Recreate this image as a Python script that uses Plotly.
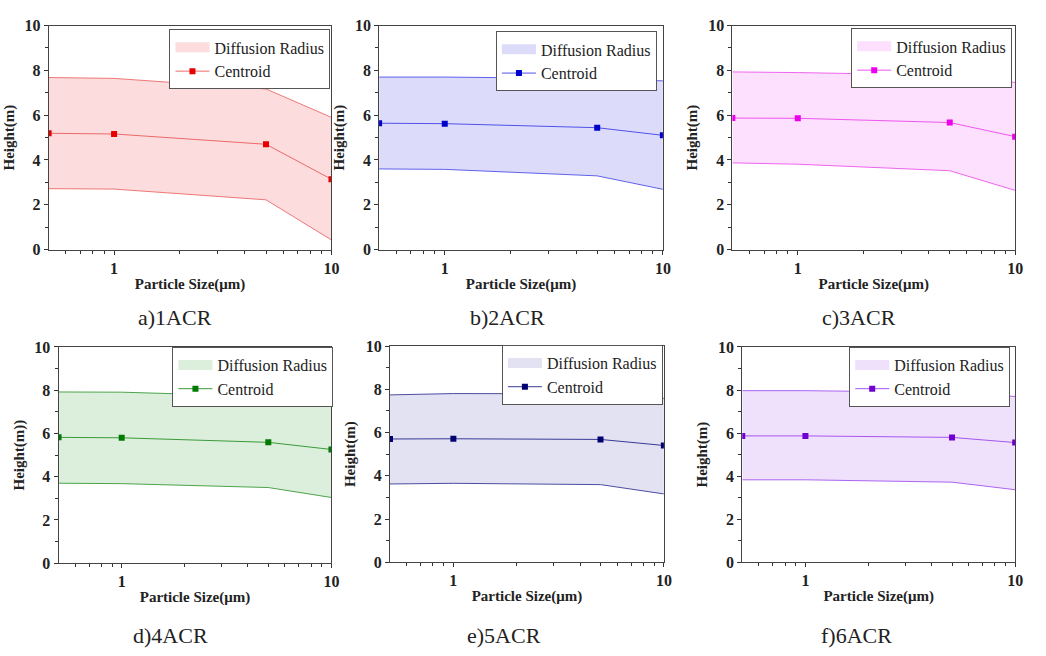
import plotly.graph_objects as go
import math

# ---------------- data ----------------
particle_sizes = [0.5, 1, 5, 10]
panel_labels = ["a)1ACR", "b)2ACR", "c)3ACR", "d)4ACR", "e)5ACR", "f)6ACR"]
y_titles = ["Height(m)", "Height(m)", "Height(m)", "Height(m))", "Height(m)", "Height(m)"]

centroid_1 = [5.19, 5.16, 4.70, 3.14]
upper_1 = [7.68, 7.64, 7.17, 5.90]
lower_1 = [2.72, 2.70, 2.22, 0.43]

centroid_2 = [5.64, 5.62, 5.44, 5.10]
upper_2 = [7.70, 7.70, 7.63, 7.53]
lower_2 = [3.60, 3.58, 3.29, 2.69]

centroid_3 = [5.87, 5.86, 5.67, 5.04]
upper_3 = [7.93, 7.90, 7.78, 7.46]
lower_3 = [3.87, 3.81, 3.52, 2.64]

centroid_4 = [5.82, 5.80, 5.59, 5.26]
upper_4 = [7.92, 7.91, 7.71, 7.52]
lower_4 = [3.70, 3.68, 3.50, 3.04]

centroid_5 = [5.70, 5.71, 5.68, 5.40]
upper_5 = [7.74, 7.80, 7.79, 7.58]
lower_5 = [3.62, 3.65, 3.59, 3.16]

centroid_6 = [5.87, 5.87, 5.80, 5.56]
upper_6 = [7.97, 7.97, 7.89, 7.70]
lower_6 = [3.83, 3.83, 3.72, 3.37]

y_tick_vals = [0, 2, 4, 6, 8, 10]
x_tick_vals = [1, 10]
x_tick_text = ["1", "10"]
x_minor_vals = [0.6, 0.7, 0.8, 0.9, 2, 3, 4, 5, 6, 7, 8, 9]

centroids = [centroid_1, centroid_2, centroid_3, centroid_4, centroid_5, centroid_6]
uppers = [upper_1, upper_2, upper_3, upper_4, upper_5, upper_6]
lowers = [lower_1, lower_2, lower_3, lower_4, lower_5, lower_6]

# ---------------- styles ----------------
W, H = 1046, 656
fill_colors = ["#fcdcdc", "#dcdcfa", "#fde0fd", "#dcefdc", "#e2e2f2", "#efe0fc"]
line_colors = ["#ec6a6a", "#5050e8", "#ee55ee", "#3a9a3a", "#3a3a98", "#a455f0"]
marker_colors = ["#e80000", "#0000cc", "#ee00ee", "#007a00", "#000070", "#7000d0"]

# plot areas in pixels: (x0, x1, y0_top, y1_bottom)
areas = [
    (49, 334, 18, 248),
    (382, 668, 18, 248),
    (738, 1023, 18, 248),
    (59, 334, 348, 570),
    (393, 669, 347, 569),
    (748, 1023, 348, 569),
]
# legend box: (right px, top px)
legend_pos = [(333, 22), (662, 24), (1020, 21), (336, 348), (668, 346), (1018, 348)]
caption_pos = [(176, 318), (511, 318), (866, 318), (172, 644), (508, 644), (863, 644)]

serif = "Liberation Serif"

fig = go.Figure()
layout = dict(
    width=W, height=H,
    margin=dict(l=0, r=0, t=0, b=0),
    paper_bgcolor="white", plot_bgcolor="white",
    font=dict(family=serif, color="#222"),
    showlegend=True,
    annotations=[],
)

for i in range(6):
    n = "" if i == 0 else str(i + 1)
    xa, ya = "x" + n, "y" + n
    lg = "legend" + n
    x0, x1, yt, yb = areas[i]

    # lower boundary (fill base)
    fig.add_trace(go.Scatter(x=particle_sizes, y=lowers[i], mode="lines",
                             line=dict(color=line_colors[i], width=0.9),
                             xaxis=xa, yaxis=ya, showlegend=False, hoverinfo="skip"))
    # filled band
    fig.add_trace(go.Scatter(x=particle_sizes, y=uppers[i], mode="lines", fill="tonexty",
                             fillcolor=fill_colors[i], line=dict(width=0),
                             xaxis=xa, yaxis=ya, showlegend=False, hoverinfo="skip"))
    # upper boundary line
    fig.add_trace(go.Scatter(x=particle_sizes, y=uppers[i], mode="lines",
                             line=dict(color=line_colors[i], width=0.9),
                             xaxis=xa, yaxis=ya, showlegend=False, hoverinfo="skip"))
    # legend swatch for the band
    fig.add_trace(go.Scatter(x=[None], y=[None], mode="lines",
                             line=dict(color=fill_colors[i], width=14),
                             name="Diffusion Radius", legend=lg,
                             xaxis=xa, yaxis=ya, showlegend=True))
    # centroid
    fig.add_trace(go.Scatter(x=particle_sizes, y=centroids[i], mode="lines+markers",
                             line=dict(color=line_colors[i], width=1),
                             marker=dict(symbol="square", size=6, color=marker_colors[i]),
                             name="Centroid", legend=lg,
                             xaxis=xa, yaxis=ya, showlegend=True))

    axis_common = dict(showline=True, linecolor="#444", linewidth=1, mirror=True,
                       ticks="outside", tickcolor="#333", ticklen=4,
                       showgrid=False, zeroline=False,
                       tickfont=dict(family=serif, size=16, color="#222", weight="bold"))
    layout["xaxis" + n] = dict(
        axis_common, type="log",
        range=[math.log10(0.5), 1],
        domain=[x0 / W, x1 / W],
        anchor=ya,
        tickvals=x_tick_vals, ticktext=x_tick_text,
        minor=dict(tickvals=x_minor_vals, ticks="outside", ticklen=3, tickcolor="#333"),
        title=dict(text="<b>Particle Size(μm)</b>", font=dict(family=serif, size=15, color="#222"),
                   standoff=2),
    )
    layout["yaxis" + n] = dict(
        axis_common,
        range=[0, 10],
        domain=[1 - yb / H, 1 - yt / H],
        anchor=xa,
        tickvals=y_tick_vals,
        minor=dict(dtick=1, ticks="outside", ticklen=3, tickcolor="#333"),
        title=dict(text="<b>" + y_titles[i] + "</b>", font=dict(family=serif, size=15, color="#222"),
                   standoff=6),
    )
    lx, ly = legend_pos[i]
    layout[lg] = dict(
        x=lx / W, y=1 - ly / H, xanchor="right", yanchor="top",
        xref="paper", yref="paper",
        bgcolor="white", bordercolor="#555", borderwidth=1,
        font=dict(family=serif, size=16, color="#222"),
        tracegroupgap=0, itemwidth=34, traceorder="normal",
    )
    cx, cy = caption_pos[i]
    layout["annotations"].append(dict(
        text=panel_labels[i], x=cx / W, y=1 - cy / H, xref="paper", yref="paper",
        xanchor="center", yanchor="middle", showarrow=False,
        font=dict(family=serif, size=22, color="#222"),
    ))

fig.update_layout(**layout)
fig.write_html("out.html")
